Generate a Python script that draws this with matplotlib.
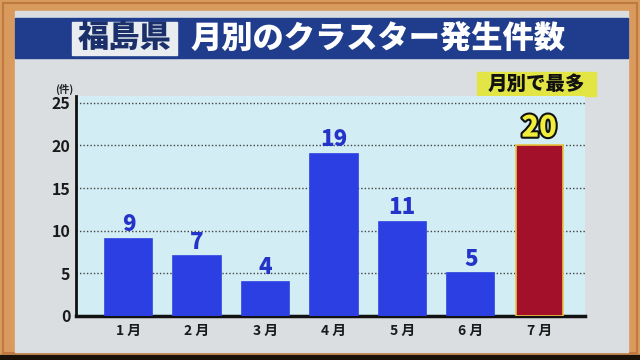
import matplotlib
matplotlib.use("Agg")
import matplotlib.pyplot as plt
from matplotlib.patches import Rectangle
import matplotlib.patheffects as pe

plt.rcParams['font.family'] = ['Noto Sans CJK JP', 'DejaVu Sans']

months = ["1 月", "2 月", "3 月", "4 月", "5 月", "6 月", "7 月"]
counts = [9, 7, 4, 19, 11, 5, 20]
yticks = [0, 5, 10, 15, 20, 25]
title_pref = "福島県"
title_main = "月別のクラスター発生件数"
badge = "月別で最多"
unit = "(件)"

W, H = 640, 360
fig = plt.figure(figsize=(6.4, 3.6), dpi=100)
fig.patch.set_facecolor("#d99a5e")

# background decoration axes in pixel coords
bg = fig.add_axes([0, 0, 1, 1])
bg.set_xlim(0, W)
bg.set_ylim(H, 0)
bg.axis("off")
bg.add_patch(Rectangle((0, 355), W, 5, color="#1a1208"))
bg.add_patch(Rectangle((3, 3), W - 6, 350, facecolor="none", edgecolor="#c07a40", lw=1.5))
bg.add_patch(Rectangle((15, 11), 613, 341, color="#dadee1"))
bg.add_patch(Rectangle((15, 18), 613, 40, color="#1f3d8c"))
bg.add_patch(Rectangle((72, 22), 105, 33, color="#e9edf0"))
bg.text(124.5, 38, title_pref, ha="center", va="center", fontsize=22.5,
        fontweight="heavy", color="#1b2f6a")
bg.text(378, 38, title_main, ha="center", va="center", fontsize=22.5,
        fontweight="heavy", color="white")
bg.add_patch(Rectangle((477, 72), 119, 24, color="#e3e544"))
bg.text(536, 84, badge, ha="center", va="center", fontsize=14,
        fontweight="heavy", color="#111111")
bg.text(64, 89, unit, ha="center", va="center", fontsize=7.5,
        fontweight="bold", color="#222222")

# chart axes
x0, x1, ytop, ybot = 76, 585, 96, 316
ax = fig.add_axes([x0 / W, 1 - ybot / H, (x1 - x0) / W, (ybot - ytop) / H])
ax.set_facecolor("#d2edf4")
xs = list(range(len(months)))
colors = ["#2b3fe3"] * (len(counts) - 1) + ["#a3102a"]
edges = ["#2b3fe3"] * (len(counts) - 1) + ["#e8c640"]
ax.bar(xs, counts, width=0.69, color=colors, edgecolor=edges, linewidth=1.2, zorder=3)
ax.set_xlim(-0.77, 6.67)
ax.set_ylim(0, 25.8)
ax.set_yticks(yticks)
ax.set_yticklabels([str(t) for t in yticks], fontsize=11.5, fontweight="bold", color="#1a1a1a")
ax.set_xticks(xs)
ax.set_xticklabels(months, fontsize=10, fontweight="bold", color="#1a1a1a")
ax.tick_params(axis="both", length=0, pad=4)
ax.tick_params(axis="x", pad=6)
for y in yticks[1:]:
    ax.axhline(y, color="#444444", lw=1, ls=(0, (1, 1.5)), zorder=1)
for s in ["top", "right"]:
    ax.spines[s].set_visible(False)
ax.spines["left"].set_color("#111111")
ax.spines["left"].set_linewidth(2)
ax.spines["bottom"].set_color("#111111")
ax.spines["bottom"].set_linewidth(2.5)

for x, v in zip(xs[:-1], counts[:-1]):
    ax.annotate(str(v), (x, v), xytext=(0, 2), textcoords="offset points",
                ha="center", va="bottom", fontsize=16, fontweight="heavy",
                color="#2433c8")
ax.annotate(str(counts[-1]), (xs[-1], counts[-1]), xytext=(0, 2), textcoords="offset points",
            ha="center", va="bottom", fontsize=21, fontweight="heavy", color="#f0ee3a",
            path_effects=[pe.withStroke(linewidth=3, foreground="#111111")])

fig.savefig("out.png", dpi=100)
